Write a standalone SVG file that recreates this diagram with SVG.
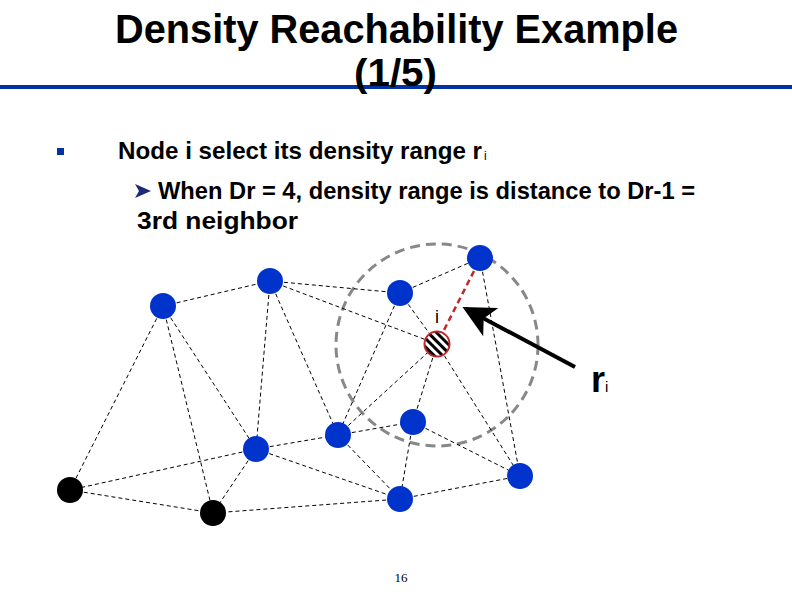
<svg xmlns="http://www.w3.org/2000/svg" width="792" height="612" viewBox="0 0 792 612">
  <style>
    .t { font-family: "Liberation Sans", Arial, sans-serif; font-weight: bold; fill: #000; }
    .edge { stroke: #000; stroke-width: 1; stroke-dasharray: 4 3; fill: none; }
    .blue { fill: #0033cc; }
    .black { fill: #000; }
  </style>
  <defs>
    <pattern id="hatch" width="6" height="6" patternUnits="userSpaceOnUse" patternTransform="rotate(-45)">
      <rect width="6" height="6" fill="#fff"/>
      <rect width="3" height="6" fill="#000"/>
    </pattern>
    <marker id="ah" markerWidth="8" markerHeight="8" refX="7" refY="4" orient="auto" markerUnits="strokeWidth">
      <path d="M0,0 L8,4 L0,8 L2,4 Z" fill="#000"/>
    </marker>
  </defs>

  <rect width="792" height="612" fill="#fff"/>

  <!-- Title -->
  <rect x="0" y="85" width="792" height="4" fill="#0033a0"/>
  <text class="t" x="115" y="43" font-size="41" textLength="563" lengthAdjust="spacingAndGlyphs">Density Reachability Example</text>
  <text class="t" x="354" y="86" font-size="38" textLength="83" lengthAdjust="spacingAndGlyphs">(1/5)</text>

  <!-- Bullets -->
  <rect x="57" y="148" width="7" height="7" fill="#0033a0"/>
  <text class="t" x="118" y="159" font-size="24" textLength="364" lengthAdjust="spacingAndGlyphs">Node i select its density range r</text>
  <text x="484" y="160" font-family="Liberation Sans, Arial, sans-serif" font-size="12">i</text>
  <polygon points="135,184 151,191 135,198 139,191" fill="#1c2a78"/>
  <text class="t" x="158" y="199" font-size="24" textLength="537" lengthAdjust="spacingAndGlyphs">When Dr = 4, density range is distance to Dr-1 =</text>
  <text class="t" x="137" y="229" font-size="24" textLength="161" lengthAdjust="spacingAndGlyphs">3rd neighbor</text>

  <!-- range circle -->
  <circle cx="437" cy="345" r="101" fill="none" stroke="#888" stroke-width="3" stroke-dasharray="10 6"/>

  <!-- connectors -->
  <g id="connectors">
    <line class="edge" x1="163" y1="306" x2="270" y2="281"/>
    <line class="edge" x1="163" y1="306" x2="70" y2="490"/>
    <line class="edge" x1="163" y1="306" x2="213" y2="513"/>
    <line class="edge" x1="163" y1="306" x2="256" y2="449"/>
    <line class="edge" x1="270" y1="281" x2="400" y2="293"/>
    <line class="edge" x1="270" y1="281" x2="437" y2="344"/>
    <line class="edge" x1="270" y1="281" x2="256" y2="449"/>
    <line class="edge" x1="270" y1="281" x2="338" y2="435"/>
    <line class="edge" x1="400" y1="293" x2="480" y2="258"/>
    <line class="edge" x1="400" y1="293" x2="437" y2="344"/>
    <line class="edge" x1="400" y1="293" x2="338" y2="435"/>
    <line class="edge" x1="480" y1="258" x2="520" y2="476"/>
    <line class="edge" x1="256" y1="449" x2="338" y2="435"/>
    <line class="edge" x1="256" y1="449" x2="70" y2="490"/>
    <line class="edge" x1="256" y1="449" x2="213" y2="513"/>
    <line class="edge" x1="256" y1="449" x2="400" y2="499"/>
    <line class="edge" x1="338" y1="435" x2="437" y2="344"/>
    <line class="edge" x1="338" y1="435" x2="413" y2="422"/>
    <line class="edge" x1="338" y1="435" x2="400" y2="499"/>
    <line class="edge" x1="413" y1="422" x2="437" y2="344"/>
    <line class="edge" x1="413" y1="422" x2="400" y2="499"/>
    <line class="edge" x1="413" y1="422" x2="520" y2="476"/>
    <line class="edge" x1="437" y1="344" x2="520" y2="476"/>
    <line class="edge" x1="400" y1="499" x2="520" y2="476"/>
    <line class="edge" x1="400" y1="499" x2="213" y2="513"/>
    <line class="edge" x1="70" y1="490" x2="213" y2="513"/>
    <line x1="474" y1="271" x2="443" y2="332" stroke="#c0282d" stroke-width="2.5" stroke-dasharray="6 4"/>
    <line x1="575" y1="367" x2="466" y2="309" stroke="#000" stroke-width="4" marker-end="url(#ah)"/>
  </g>

  <!-- nodes -->
  <g id="nA"><circle class="blue" cx="163" cy="306" r="13"/></g>
  <g id="nB"><circle class="blue" cx="270" cy="281" r="13"/></g>
  <g id="nC"><circle class="blue" cx="400" cy="293" r="13"/></g>
  <g id="nD"><circle class="blue" cx="480" cy="258" r="13"/></g>
  <g id="nE"><circle class="blue" cx="256" cy="449" r="13"/></g>
  <g id="nF"><circle class="blue" cx="338" cy="435" r="13"/></g>
  <g id="nG"><circle class="blue" cx="413" cy="422" r="13"/></g>
  <g id="nH"><circle class="blue" cx="400" cy="499" r="13"/></g>
  <g id="nJ"><circle class="blue" cx="520" cy="476" r="13"/></g>
  <g id="nK"><circle class="black" cx="70" cy="490" r="13"/></g>
  <g id="nL"><circle class="black" cx="213" cy="513" r="13"/></g>
  <g id="ni">
    <circle cx="437" cy="344" r="12.5" fill="url(#hatch)" stroke="#c0282d" stroke-width="2"/>
    <text x="437" y="323" font-family="Liberation Sans, Arial, sans-serif" font-size="18" text-anchor="middle">i</text>
  </g>

  <!-- ri label -->
  <text class="t" x="591" y="392" font-size="36">r</text>
  <text x="605" y="392" font-family="Liberation Sans, Arial, sans-serif" font-size="15">i</text>

  <!-- page number -->
  <text x="401" y="582" font-family="Liberation Serif, serif" font-size="13" text-anchor="middle">16</text>
</svg>
